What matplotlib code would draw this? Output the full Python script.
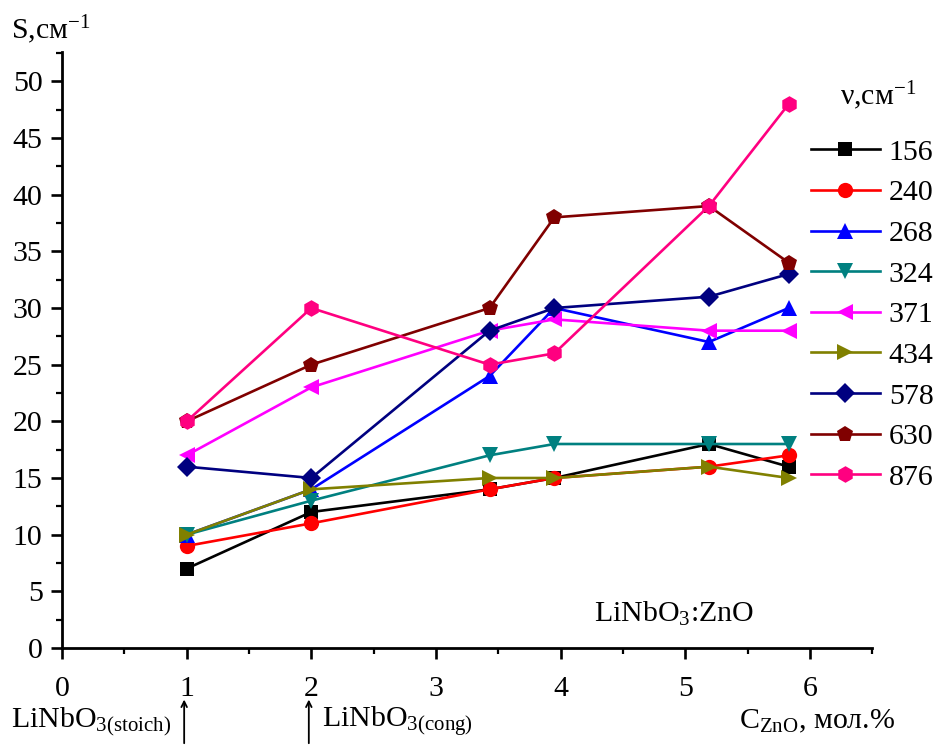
import matplotlib
matplotlib.use("Agg")
import matplotlib.pyplot as plt
from matplotlib.ticker import MultipleLocator

plt.rcParams['font.family'] = ['Liberation Serif', 'DejaVu Serif']
plt.rcParams['mathtext.fontset'] = 'custom'
plt.rcParams['mathtext.rm'] = 'Liberation Serif'
plt.rcParams['mathtext.it'] = 'Liberation Serif:italic'
plt.rcParams['mathtext.default'] = 'regular'

# ZnO concentration, mol.%
conc = [1, 2, 3.43, 3.95, 5.19, 5.83]

# line intensities S for each frequency (cm^-1)
freqs = ['156', '240', '268', '324', '371', '434', '578', '630', '876']
s156 = [7, 12, 14, 15, 18, 16]
s240 = [9, 11, 14, 15, 16, 17]
s268 = [10, 14, 24, 30, 27, 30]
s324 = [10, 13, 17, 18, 18, 18]
s371 = [17, 23, 28, 29, 28, 28]
s434 = [10, 14, 15, 15, 16, 15]
s578 = [16, 15, 28, 30, 31, 33]
s630 = [20, 25, 30, 38, 39, 34]
s876 = [20, 30, 25, 26, 39, 48]
series = [s156, s240, s268, s324, s371, s434, s578, s630, s876]

colors = ['#000000', '#FF0000', '#0000FF', '#008080', '#FF00FF',
          '#808000', '#000080', '#800000', '#FF0080']
markers = ['s', 'o', '^', 'v', '<', '>', 'D', 'p', 'h']
msizes = [10, 11, 12, 12, 12, 12, 10, 12, 12]

fs = 21.5

fig = plt.figure(figsize=(9.41, 7.46), dpi=100)
ax = fig.add_axes([0.0659, 0.1314, 0.861, 0.799])

handles = []
for vals, c, m, ms, lab in zip(series, colors, markers, msizes, freqs):
    h, = ax.plot(conc, vals, color=c, marker=m, markersize=ms, lw=1.9,
                 markeredgewidth=0, label=lab)
    handles.append(h)

ax.set_xlim(0, 6.5)
ax.set_ylim(0, 52.6)
ax.xaxis.set_major_locator(MultipleLocator(1))
ax.xaxis.set_minor_locator(MultipleLocator(0.5))
ax.yaxis.set_major_locator(MultipleLocator(5))
ax.yaxis.set_minor_locator(MultipleLocator(2.5))
for s in ['top', 'right']:
    ax.spines[s].set_visible(False)
for s in ['left', 'bottom']:
    ax.spines[s].set_linewidth(2.0)
ax.tick_params(which='major', length=8, width=1.9, labelsize=fs)
ax.tick_params(which='minor', length=4, width=1.6)
ax.tick_params(axis='x', which='major', pad=12)
ax.tick_params(axis='y', which='major', pad=6)

fig.text(0.012, 0.96, 'S,см$^{-1}$', fontsize=fs, va='center', ha='left')
fig.text(0.893, 0.872, 'ν,см$^{-1}$', fontsize=fs, va='center', ha='left')
ax.text(5.55, 3.0, 'LiNbO$_3$:ZnO', fontsize=fs, ha='right', va='center')

fig.legend(handles=handles, loc='center left', bbox_to_anchor=(0.862, 0.578),
           frameon=False, fontsize=fs, handlelength=2.3, handletextpad=0.3,
           labelspacing=0.46, borderpad=0, borderaxespad=0)

fig.text(0.012, 0.033, 'LiNbO$_{3(stoich)}$', fontsize=fs, va='center', ha='left')
fig.text(0.342, 0.033, 'LiNbO$_{3(cong)}$', fontsize=fs, va='center', ha='left')
fig.text(0.785, 0.033, 'C$_{ZnO}$, мол.%', fontsize=fs, va='center', ha='left')

for xv in [0.98, 1.98]:
    ax.annotate('', xy=(xv, 0.066), xytext=(xv, 0.0),
                xycoords=('data', 'figure fraction'),
                textcoords=('data', 'figure fraction'),
                arrowprops=dict(arrowstyle='->', lw=1.3, color='black'))

fig.savefig('out.png', dpi=100)
